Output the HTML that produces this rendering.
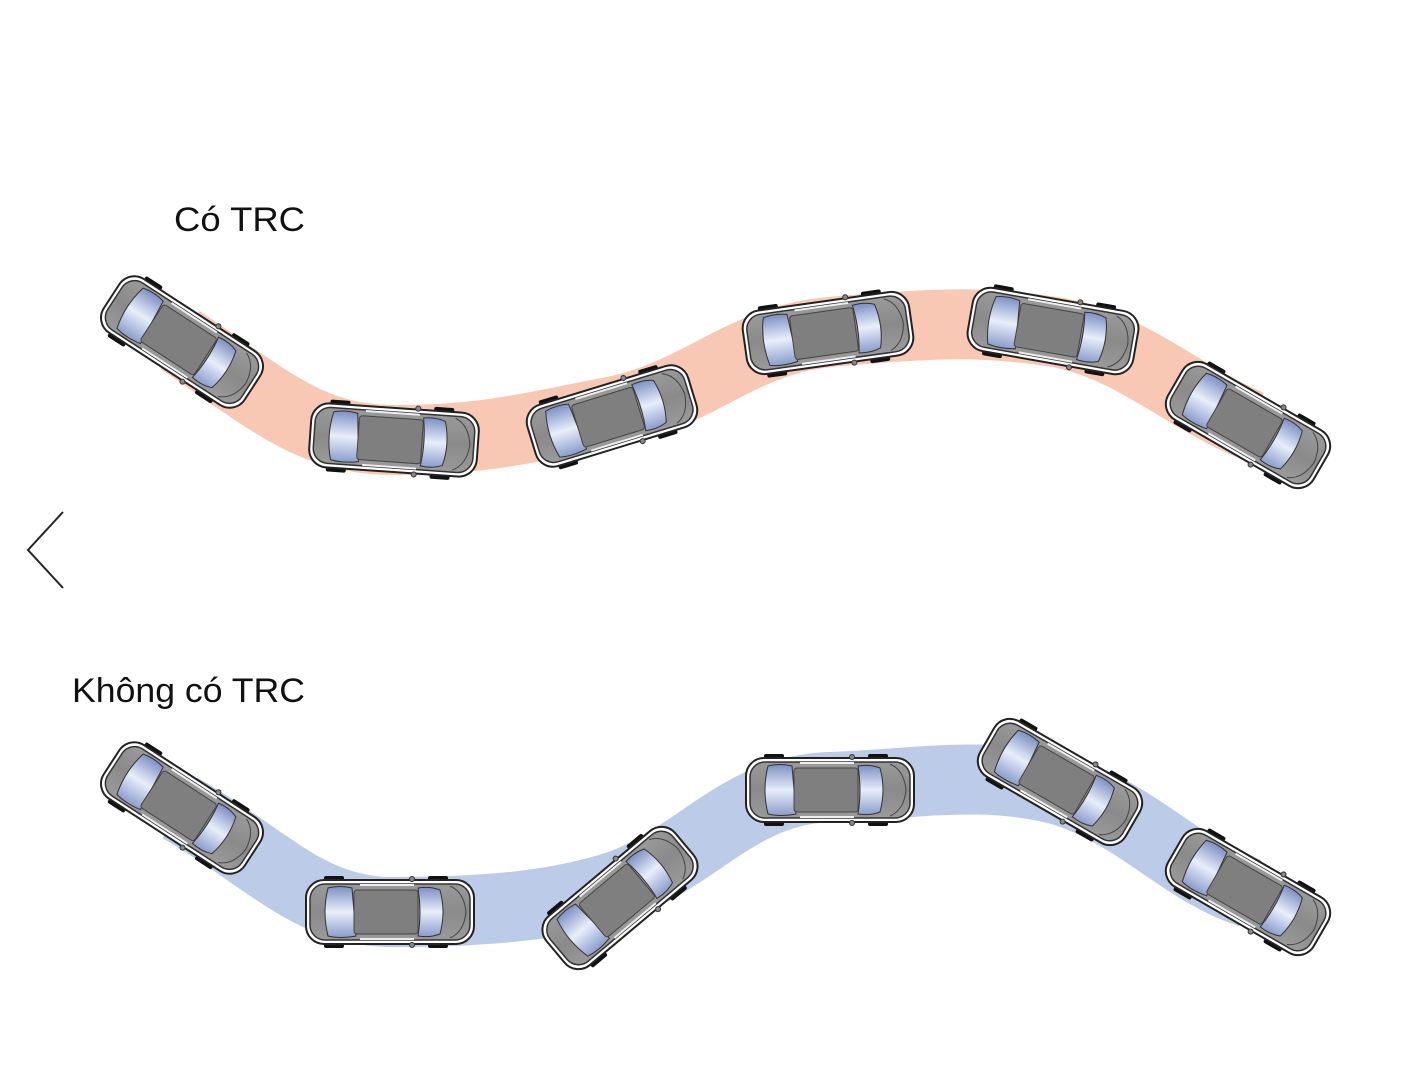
<!DOCTYPE html>
<html><head><meta charset="utf-8"><style>
html,body{margin:0;padding:0;background:#fff;}
svg{display:block}
</style></head><body>
<svg width="1402" height="1084" viewBox="0 0 1402 1084" xmlns="http://www.w3.org/2000/svg">
<defs>
<linearGradient id="gl" x1="0" y1="0" x2="0" y2="1">
<stop offset="0" stop-color="#7d90c4"/><stop offset="0.5" stop-color="#e8eefa"/><stop offset="1" stop-color="#8a9ccc"/>
</linearGradient>
<linearGradient id="bd" x1="0" y1="0" x2="0" y2="1">
<stop offset="0" stop-color="#9a9a9a"/><stop offset="0.5" stop-color="#8a8a8a"/><stop offset="1" stop-color="#9a9a9a"/>
</linearGradient>
<g id="car">
<rect x="-66" y="-36" width="20" height="8" rx="2" fill="#111"/>
<rect x="-66" y="28" width="20" height="8" rx="2" fill="#111"/>
<rect x="38" y="-36" width="20" height="8" rx="2" fill="#111"/>
<rect x="38" y="28" width="20" height="8" rx="2" fill="#111"/>
<rect x="-84" y="-32" width="168" height="64" rx="18" fill="#fff" stroke="#222" stroke-width="2"/>
<rect x="-80" y="-28" width="160" height="56" rx="15" fill="url(#bd)" stroke="#333" stroke-width="1.5"/>
<path d="M-62,-24 Q-50,-27 -38,-24 L-34,24 Q-50,27 -62,24 Q-68,0 -62,-24Z" fill="url(#gl)" stroke="#333" stroke-width="1"/>
<path d="M28,-24 Q40,-26 50,-22 Q56,0 50,22 Q40,26 28,24 Q32,0 28,-24Z" fill="url(#gl)" stroke="#333" stroke-width="1"/>
<rect x="-36" y="-22" width="64" height="44" rx="3" fill="#7f7f7f" stroke="#444" stroke-width="1"/>
<path d="M-30,-27 L24,-27 M-30,27 L24,27" stroke="#eee" stroke-width="2"/>
<path d="M60,-26 Q74,-20 76,0 Q74,20 60,26" fill="none" stroke="#444" stroke-width="1"/>
<circle cx="22" cy="-33" r="2.5" fill="#888" stroke="#333"/>
<circle cx="22" cy="33" r="2.5" fill="#888" stroke="#333"/>
</g>
</defs>
<path d="M180,340 C270,400 310,440 395,440 C490,440 540,425 610,412 C700,395 740,340 830,332 C920,324 980,320 1055,332 C1130,345 1180,395 1250,425" fill="none" stroke="#f8c8b4" stroke-width="70"/>
<path d="M180,808 C270,860 310,912 392,912 C490,912 560,905 620,885 C700,855 740,790 830,787 C920,784 980,770 1060,790 C1140,815 1180,870 1250,893" fill="none" stroke="#bccbe8" stroke-width="70"/>
<use href="#car" transform="translate(182,342) rotate(33)"/>
<use href="#car" transform="translate(394,440) rotate(4)"/>
<use href="#car" transform="translate(612,416) rotate(-17)"/>
<use href="#car" transform="translate(828,333) rotate(-8)"/>
<use href="#car" transform="translate(1053,331) rotate(10)"/>
<use href="#car" transform="translate(1248,425) rotate(30)"/>
<use href="#car" transform="translate(182,808) rotate(33)"/>
<use href="#car" transform="translate(390,912) rotate(0)"/>
<use href="#car" transform="translate(620,898) rotate(-40)"/>
<use href="#car" transform="translate(830,790) rotate(0)"/>
<use href="#car" transform="translate(1060,782) rotate(30)"/>
<use href="#car" transform="translate(1248,892) rotate(30)"/>
<text x="174" y="231" font-family="Liberation Sans, sans-serif" font-size="34" fill="#111" textLength="131" lengthAdjust="spacingAndGlyphs">Có TRC</text>
<text x="72" y="702" font-family="Liberation Sans, sans-serif" font-size="34" fill="#111" textLength="233" lengthAdjust="spacingAndGlyphs">Không có TRC</text>
<path d="M63,512 L28,550 L63,588" fill="none" stroke="#222" stroke-width="2"/>
</svg>
</body></html>
